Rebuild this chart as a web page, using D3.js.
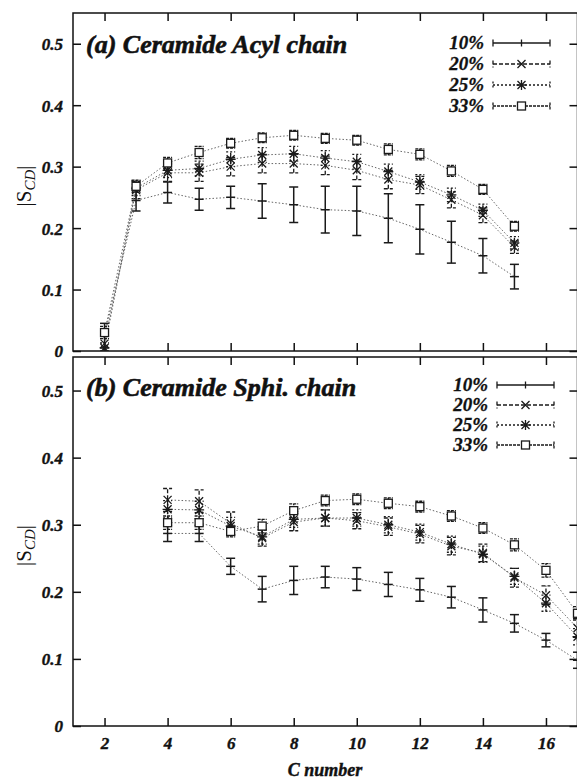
<!DOCTYPE html>
<html>
<head>
<meta charset="utf-8">
<script src="https://cdn.jsdelivr.net/npm/d3@7"></script>
<style>
  body { margin: 0; background: #fff; }
  svg text { font-family: "Liberation Serif", "Times New Roman", serif; font-weight: bold; font-style: italic; fill: #111; }
</style>
</head>
<body>
<div id="chart"></div>
<script>
// ---- data ----
const seriesNames = ['10%', '20%', '25%', '33%'];

// panel (a): ceramide acyl chain, carbons 2..15
const carbonsA = [2, 3, 4, 5, 6, 7, 8, 9, 10, 11, 12, 13, 14, 15];
const acyl10 = [0.025, 0.245, 0.258, 0.247, 0.250, 0.244, 0.238, 0.230, 0.228, 0.216, 0.198, 0.177, 0.155, 0.121];
const acyl10Err = [0.020, 0.017, 0.017, 0.018, 0.018, 0.028, 0.029, 0.038, 0.040, 0.040, 0.040, 0.034, 0.028, 0.020];
const acyl20 = [0.012, 0.262, 0.290, 0.290, 0.300, 0.305, 0.305, 0.302, 0.294, 0.279, 0.270, 0.246, 0.221, 0.169];
const acyl20Err = [0.012, 0.014, 0.014, 0.014, 0.015, 0.015, 0.015, 0.015, 0.015, 0.015, 0.014, 0.013, 0.012, 0.010];
const acyl25 = [0.005, 0.265, 0.294, 0.297, 0.312, 0.319, 0.321, 0.314, 0.308, 0.292, 0.275, 0.254, 0.229, 0.176];
const acyl25Err = [0.008, 0.012, 0.012, 0.012, 0.012, 0.012, 0.012, 0.012, 0.012, 0.012, 0.012, 0.011, 0.010, 0.010];
const acyl33 = [0.030, 0.268, 0.306, 0.323, 0.338, 0.347, 0.351, 0.346, 0.343, 0.328, 0.320, 0.293, 0.263, 0.203];
const acyl33Err = [0.010, 0.010, 0.009, 0.010, 0.008, 0.008, 0.008, 0.008, 0.008, 0.009, 0.009, 0.009, 0.008, 0.008];

// panel (b): ceramide sphingosine chain, carbons 4..17
const carbonsB = [4, 5, 6, 7, 8, 9, 10, 11, 12, 13, 14, 15, 16, 17];
const sphi10 = [0.287, 0.287, 0.238, 0.204, 0.217, 0.222, 0.219, 0.211, 0.203, 0.192, 0.173, 0.153, 0.128, 0.098];
const sphi10Err = [0.012, 0.012, 0.012, 0.019, 0.021, 0.016, 0.017, 0.018, 0.017, 0.016, 0.018, 0.013, 0.010, 0.012];
const sphi20 = [0.337, 0.335, 0.302, 0.280, 0.304, 0.310, 0.306, 0.297, 0.286, 0.268, 0.258, 0.221, 0.195, 0.146];
const sphi20Err = [0.017, 0.017, 0.017, 0.012, 0.013, 0.012, 0.012, 0.013, 0.013, 0.013, 0.013, 0.014, 0.014, 0.014];
const sphi25 = [0.323, 0.322, 0.298, 0.282, 0.308, 0.310, 0.310, 0.300, 0.289, 0.271, 0.256, 0.223, 0.183, 0.133];
const sphi25Err = [0.013, 0.013, 0.013, 0.011, 0.012, 0.012, 0.012, 0.012, 0.012, 0.012, 0.012, 0.012, 0.012, 0.012];
const sphi33 = [0.303, 0.303, 0.290, 0.298, 0.321, 0.336, 0.338, 0.332, 0.327, 0.313, 0.295, 0.270, 0.232, 0.168];
const sphi33Err = [0.010, 0.010, 0.008, 0.010, 0.010, 0.008, 0.008, 0.008, 0.008, 0.008, 0.008, 0.009, 0.010, 0.010];

const xTicks = [2, 4, 6, 8, 10, 12, 14, 16];
const yTicks = [0, 0.1, 0.2, 0.3, 0.4, 0.5];

// ---- layout ----
const W = 577, H = 779;
const left = 73, right = 577.5;
const panels = [
  { top: 13, bottom: 351, title: '(a) Ceramide Acyl chain', titleY: 53,
    legendX: 484, legendY: 43, legendStep: 21, keyX0: 493, keyX1: 550,
    carbons: carbonsA,
    series: [[acyl10, acyl10Err], [acyl20, acyl20Err], [acyl25, acyl25Err], [acyl33, acyl33Err]] },
  { top: 357, bottom: 726, title: '(b) Ceramide Sphi. chain', titleY: 396,
    legendX: 488, legendY: 385, legendStep: 20, keyX0: 497, keyX1: 554,
    carbons: carbonsB,
    series: [[sphi10, sphi10Err], [sphi20, sphi20Err], [sphi25, sphi25Err], [sphi33, sphi33Err]] }
];

// per-series style: error bar dash and marker type
const styles = [
  { dash: null, marker: 'plus', width: 1.5 },
  { dash: '4,2', marker: 'cross', width: 1.3 },
  { dash: '2,2', marker: 'star', width: 1.3 },
  { dash: '3,1', marker: 'square', width: 1.3 }
];

const svg = d3.select('#chart').append('svg')
  .attr('width', W).attr('height', H);

const x = d3.scaleLinear().domain([1, 17]).range([left, right]);

function drawMarker(g, type, cx, cy) {
  const s = 4;
  if (type === 'plus') {
    g.append('line').attr('x1', cx - 4.5).attr('x2', cx + 4.5).attr('y1', cy).attr('y2', cy);
  } else if (type === 'cross') {
    g.append('path').attr('d', `M${cx - s},${cy - s}L${cx + s},${cy + s}M${cx - s},${cy + s}L${cx + s},${cy - s}`);
  } else if (type === 'star') {
    g.append('path').attr('d', `M${cx - s},${cy - s}L${cx + s},${cy + s}M${cx - s},${cy + s}L${cx + s},${cy - s}M${cx},${cy - s - 1}L${cx},${cy + s + 1}M${cx - s - 1},${cy}L${cx + s + 1},${cy}`);
  } else if (type === 'square') {
    g.append('rect').attr('x', cx - 4).attr('y', cy - 4).attr('width', 8).attr('height', 8)
      .attr('fill', '#fff');
  }
}

panels.forEach((p, pi) => {
  const y = d3.scaleLinear().domain([0, 0.55]).range([p.bottom, p.top]);
  const g = svg.append('g');

  const clipId = 'clip' + pi;
  svg.append('clipPath').attr('id', clipId).append('rect')
    .attr('x', left).attr('y', p.top).attr('width', right - left).attr('height', p.bottom - p.top);

  // frame
  g.append('rect').attr('x', left).attr('y', p.top)
    .attr('width', right - left).attr('height', p.bottom - p.top)
    .attr('fill', 'none').attr('stroke', '#111').attr('stroke-width', 1.5);

  // y axis (left), ticks inward
  const yAxis = g.append('g').attr('transform', `translate(${left},0)`)
    .call(d3.axisLeft(y).tickValues(yTicks).tickSize(-8).tickPadding(10)
      .tickFormat(d => d === 0 ? '0' : d3.format('.1f')(d)));
  yAxis.select('.domain').remove();
  yAxis.selectAll('line').attr('stroke', '#111').attr('stroke-width', 1.5);
  yAxis.selectAll('text').attr('font-size', 17).attr('fill', '#111').attr('dy', '0.35em')
    .attr('stroke', '#111').attr('stroke-width', 0.4);

  // right mirror ticks
  const yAxisR = g.append('g').attr('transform', `translate(${right},0)`)
    .call(d3.axisRight(y).tickValues(yTicks).tickSize(-8).tickFormat(''));
  yAxisR.select('.domain').remove();
  yAxisR.selectAll('line').attr('stroke', '#111').attr('stroke-width', 1.5);

  // x axis ticks on top and bottom, inward
  const xTop = g.append('g').attr('transform', `translate(0,${p.top})`)
    .call(d3.axisTop(x).tickValues(xTicks).tickSize(-8).tickFormat(''));
  xTop.select('.domain').remove();
  xTop.selectAll('line').attr('stroke', '#111').attr('stroke-width', 1.5);

  const xBot = g.append('g').attr('transform', `translate(0,${p.bottom})`)
    .call(d3.axisBottom(x).tickValues(xTicks).tickSize(-8)
      .tickPadding(pi === 1 ? 11 : 0).tickFormat(pi === 1 ? d3.format('d') : ''));
  xBot.select('.domain').remove();
  xBot.selectAll('line').attr('stroke', '#111').attr('stroke-width', 1.5);
  xBot.selectAll('text').attr('font-size', 17).attr('fill', '#111')
    .attr('stroke', '#111').attr('stroke-width', 0.4);

  // y label |S_CD|
  const ylab = g.append('text')
    .attr('transform', `translate(31,${(p.top + p.bottom) / 2 + 4}) rotate(-90)`)
    .attr('text-anchor', 'middle').attr('font-size', 21);
  ylab.append('tspan').text('|S').attr('font-style', 'normal').attr('font-weight', 'normal');
  ylab.append('tspan').text('CD').attr('font-size', 15).attr('dy', 4)
    .attr('font-style', 'italic').attr('font-weight', 'normal');
  ylab.append('tspan').text('|').attr('dy', -4)
    .attr('font-style', 'normal').attr('font-weight', 'normal');

  // title
  g.append('text').attr('x', 86).attr('y', p.titleY)
    .attr('font-size', 26).attr('stroke', '#111').attr('stroke-width', 0.6)
    .text(p.title);

  // data
  const plot = g.append('g').attr('clip-path', `url(#${clipId})`);
  p.series.forEach(([vals, errs], si) => {
    const st = styles[si];
    const pts = p.carbons.map((c, i) => ({ c, v: vals[i], e: errs[i] }));

    // connecting dotted line
    plot.append('path').datum(pts)
      .attr('d', d3.line().x(d => x(d.c)).y(d => y(d.v)))
      .attr('fill', 'none').attr('stroke', '#666').attr('stroke-width', 1)
      .attr('stroke-dasharray', '1.5,2');

    const sg = plot.append('g').attr('stroke', '#1a1a1a').attr('stroke-width', st.width).attr('fill', 'none');
    pts.forEach(d => {
      const cx = x(d.c);
      const y0 = y(d.v - d.e), y1 = y(d.v + d.e);
      const bar = sg.append('g');
      if (st.dash) bar.attr('stroke-dasharray', st.dash);
      bar.append('line').attr('x1', cx).attr('x2', cx).attr('y1', y0).attr('y2', y1);
      bar.append('line').attr('x1', cx - 4.5).attr('x2', cx + 4.5).attr('y1', y0).attr('y2', y0);
      bar.append('line').attr('x1', cx - 4.5).attr('x2', cx + 4.5).attr('y1', y1).attr('y2', y1);
      drawMarker(sg, st.marker, cx, y(d.v));
    });
  });

  // legend
  seriesNames.forEach((name, si) => {
    const st = styles[si];
    const cy = p.legendY + si * p.legendStep;
    g.append('text').attr('x', p.legendX).attr('y', cy + 6)
      .attr('text-anchor', 'end').attr('font-size', 19)
      .attr('stroke', '#111').attr('stroke-width', 0.3).text(name);
    const lg = g.append('g').attr('stroke', '#1a1a1a').attr('stroke-width', 1.3).attr('fill', 'none');
    const key = lg.append('g');
    if (st.dash) key.attr('stroke-dasharray', st.dash);
    key.append('line').attr('x1', p.keyX0).attr('x2', p.keyX1).attr('y1', cy).attr('y2', cy);
    key.append('line').attr('x1', p.keyX0).attr('x2', p.keyX0).attr('y1', cy - 3.5).attr('y2', cy + 3.5);
    key.append('line').attr('x1', p.keyX1).attr('x2', p.keyX1).attr('y1', cy - 3.5).attr('y2', cy + 3.5);
    const mx = (p.keyX0 + p.keyX1) / 2;
    if (st.marker === 'plus') {
      lg.append('line').attr('x1', mx).attr('x2', mx).attr('y1', cy - 3.5).attr('y2', cy + 3.5);
    } else {
      drawMarker(lg, st.marker, mx, cy);
    }
  });
});

// x label
svg.append('text').attr('x', 325).attr('y', 776)
  .attr('text-anchor', 'middle').attr('font-size', 18)
  .attr('stroke', '#111').attr('stroke-width', 0.4).text('C number');
</script>
</body>
</html>
